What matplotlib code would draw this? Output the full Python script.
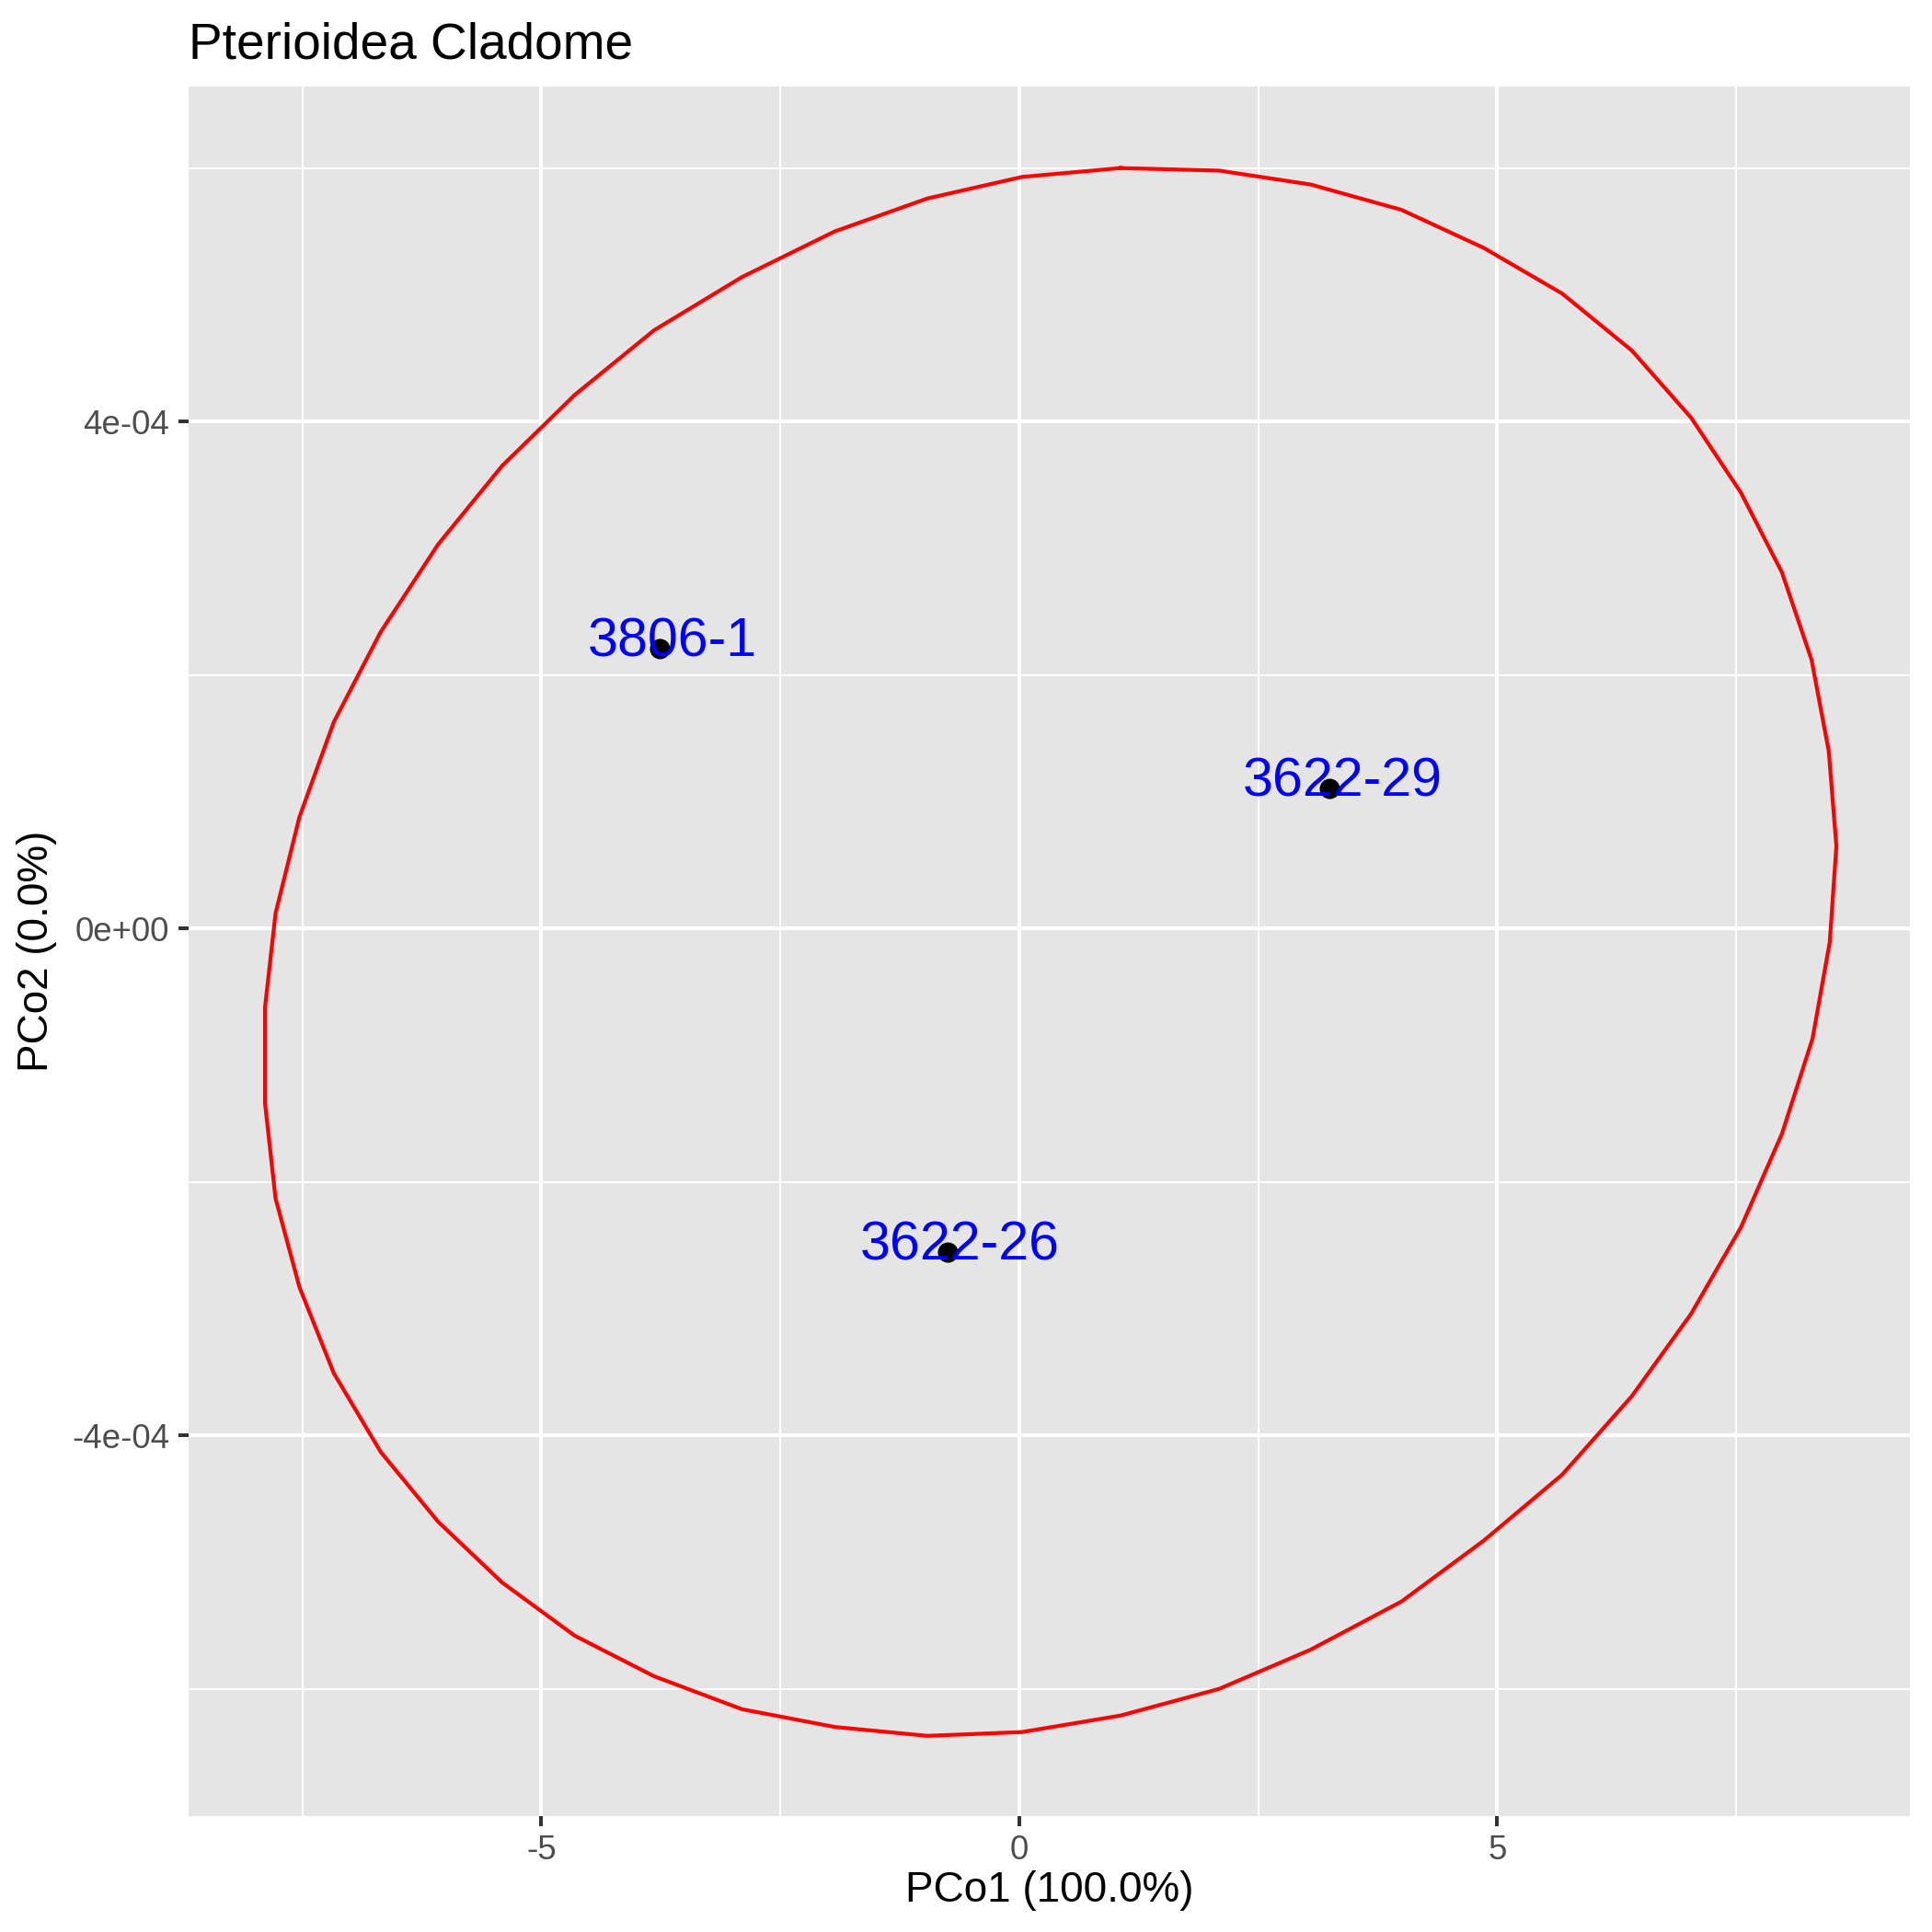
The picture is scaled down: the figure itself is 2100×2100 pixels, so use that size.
import matplotlib
matplotlib.use("Agg")
import matplotlib.pyplot as plt
from matplotlib.ticker import FixedLocator, FuncFormatter

plt.rcParams["font.family"] = ["Liberation Sans", "DejaVu Sans"]

# sample scores
sample_names = ["3806-1", "3622-29", "3622-26"]
pco1 = [-3.757, 3.25, -0.75]
pco2 = [2.205e-4, 1.104e-4, -2.555e-4]

# ellipse outline (51 vertices)
ellipse_x = [1.06, 2.09, 3.05, 4.00, 4.86, 5.68, 6.41, 7.03, 7.55, 7.98,
             8.29, 8.47, 8.55, 8.48, 8.30, 7.98, 7.55, 7.03, 6.41, 5.68,
             4.86, 4.00, 3.05, 2.09, 1.06, 0.03, -0.96, -1.93, -2.90, -3.82,
             -4.65, -5.41, -6.08, -6.68, -7.17, -7.53, -7.78, -7.89, -7.89, -7.78,
             -7.53, -7.17, -6.68, -6.08, -5.41, -4.65, -3.82, -2.90, -1.93, -0.96,
             0.03, 1.06]
ellipse_y = [6.00, 5.98, 5.87, 5.67, 5.37, 5.01, 4.56, 4.03, 3.44, 2.81,
             2.12, 1.40, 0.65, -0.11, -0.87, -1.62, -2.36, -3.04, -3.69, -4.31,
             -4.83, -5.31, -5.69, -6.00, -6.21, -6.34, -6.37, -6.30, -6.16, -5.90,
             -5.58, -5.16, -4.68, -4.13, -3.51, -2.83, -2.13, -1.38, -0.62, 0.12,
             0.88, 1.63, 2.34, 3.03, 3.65, 4.21, 4.72, 5.14, 5.50, 5.76,
             5.93, 6.00]
ellipse_y = [v * 1e-4 for v in ellipse_y]

x_major = [-5, 0, 5]
x_minor = [-7.5, -2.5, 2.5, 7.5]
y_major = [-4e-4, 0, 4e-4]
y_minor = [-6e-4, -2e-4, 2e-4, 6e-4]

fig = plt.figure(figsize=(7, 7), dpi=300)
ax = fig.add_axes([0.0976, 0.0602, 0.8910, 0.8948])
ax.set_facecolor("#E5E5E5")
for s in ax.spines.values():
    s.set_visible(False)

ax.set_xlim(-8.69, 9.32)
ax.set_ylim(-7.0e-4, 6.64e-4)

ax.xaxis.set_major_locator(FixedLocator(x_major))
ax.xaxis.set_minor_locator(FixedLocator(x_minor))
ax.yaxis.set_major_locator(FixedLocator(y_major))
ax.yaxis.set_minor_locator(FixedLocator(y_minor))
ax.xaxis.set_major_formatter(FuncFormatter(lambda v, p: f"{v:g}"))
ax.yaxis.set_major_formatter(FuncFormatter(lambda v, p: f"{v:.0e}"))

ax.grid(which="major", color="white", linewidth=0.96)
ax.grid(which="minor", color="white", linewidth=0.48)
ax.set_axisbelow(True)
ax.tick_params(which="major", length=2.75, width=0.96, color="#333333",
               labelsize=8.8, labelcolor="#4D4D4D", pad=2.2)
ax.tick_params(which="minor", length=0)

ax.plot(ellipse_x, ellipse_y, color="red", linewidth=1.0, zorder=2)
ax.plot(pco1, pco2, "o", color="black", markersize=4.3, zorder=3)
for name, x, y in zip(sample_names, pco1, pco2):
    ax.annotate(name, (x, y), xytext=(3.2, -1.9), textcoords="offset points",
                ha="center", va="baseline", color="blue", fontsize=14.2,
                zorder=4)

fig.text(0.0976, 0.970, "Pterioidea Cladome", fontsize=13.2, ha="left",
         va="baseline")
fig.text(0.0976 + 0.8910 / 2, 0.0157, "PCo1 (100.0%)", fontsize=11,
         ha="center", va="baseline")
fig.text(0.019, 0.0602 + 0.8948 / 2, "PCo2 (0.0%)", fontsize=11,
         ha="center", va="center", rotation=90)

fig.savefig("out.png", dpi=300)
